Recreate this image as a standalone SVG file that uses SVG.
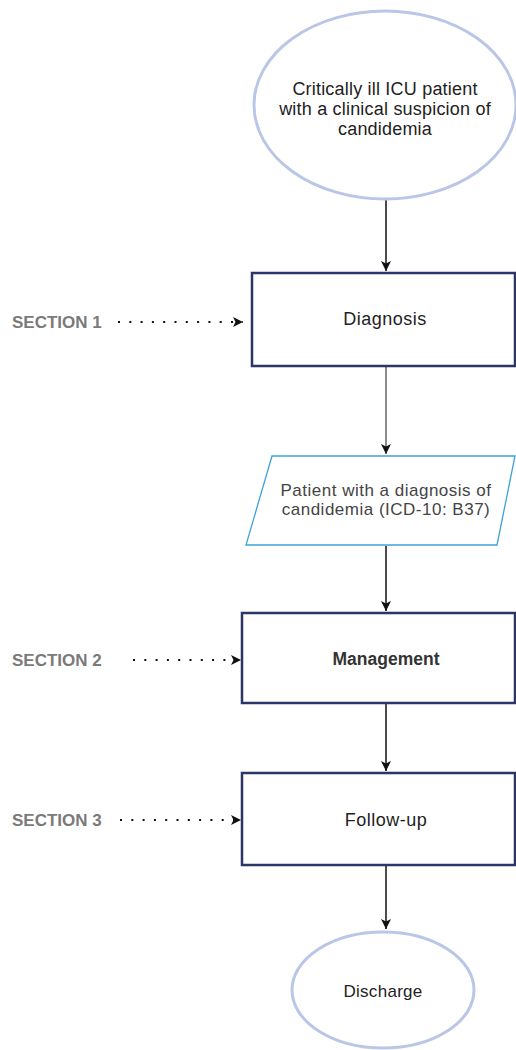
<svg xmlns="http://www.w3.org/2000/svg" width="516" height="1050" viewBox="0 0 516 1050">
<style>
  .lbl{font-family:"Liberation Sans",Arial,sans-serif;font-size:18px;fill:#222;text-anchor:middle;letter-spacing:0.5px}
  .sec{font-family:"Liberation Sans",Arial,sans-serif;font-size:17px;font-weight:bold;fill:#7a7a7a}
  .ell{fill:#fff;stroke:#b9c6e6;stroke-width:3}
  .box{fill:#fff;stroke:#2b3566;stroke-width:2.5}
  .para{fill:#fff;stroke:#3da2d9;stroke-width:1.3}
  .flow{stroke:#111;stroke-width:1.5;fill:none}
  .dot{stroke:#111;stroke-width:2.2;stroke-dasharray:2 9.3;fill:none}
</style>
<defs>
  <marker id="ah" viewBox="0 0 10 10" refX="10" refY="5" markerWidth="10" markerHeight="10" markerUnits="userSpaceOnUse" orient="auto">
    <path d="M0,0 L10,5 L0,10 L2.5,5 Z" fill="#111"/>
  </marker>
</defs>
<rect width="516" height="1050" fill="#fff"/>
<g id="connectors">
  <line class="flow" x1="386" y1="199" x2="386" y2="271" marker-end="url(#ah)"/>
  <line class="flow" x1="386" y1="367" x2="386" y2="454" marker-end="url(#ah)" style="stroke:#666"/>
  <line class="flow" x1="386" y1="546" x2="386" y2="611" marker-end="url(#ah)"/>
  <line class="flow" x1="386" y1="704" x2="386" y2="771" marker-end="url(#ah)"/>
  <line class="flow" x1="386" y1="866" x2="386" y2="929" marker-end="url(#ah)"/>
  <line class="dot" x1="118" y1="322" x2="243" y2="322" marker-end="url(#ah)"/>
  <line class="dot" x1="133" y1="660" x2="241" y2="660" marker-end="url(#ah)"/>
  <line class="dot" x1="120" y1="820" x2="241" y2="820" marker-end="url(#ah)"/>
</g>
<g id="start">
  <ellipse class="ell" cx="385" cy="105" rx="131" ry="94"/>
  <text class="lbl" x="385" y="95" style="letter-spacing:0.2px">Critically ill ICU patient</text>
  <text class="lbl" x="385" y="115" style="letter-spacing:0.2px">with a clinical suspicion of</text>
  <text class="lbl" x="385" y="135" style="letter-spacing:0.2px">candidemia</text>
</g>
<g id="section1">
  <text class="sec" x="12" y="328">SECTION 1</text>
</g>
<g id="diagnosis">
  <rect class="box" x="252" y="273" width="263" height="93"/>
  <text class="lbl" x="385" y="325">Diagnosis</text>
</g>
<g id="patient-diagnosis">
  <polygon class="para" points="272,456 515,456 497,545 246,545"/>
  <text class="lbl" x="386" y="496" style="font-size:17px;fill:#444">Patient with a diagnosis of</text>
  <text class="lbl" x="386" y="515" style="font-size:17px;fill:#444">candidemia (ICD-10: B37)</text>
</g>
<g id="section2">
  <text class="sec" x="12" y="666">SECTION 2</text>
</g>
<g id="management">
  <rect class="box" x="242" y="613" width="273" height="90"/>
  <text class="lbl" x="386" y="665" style="font-weight:bold;font-size:17.5px;letter-spacing:0px;fill:#333">Management</text>
</g>
<g id="section3">
  <text class="sec" x="12" y="826">SECTION 3</text>
</g>
<g id="followup">
  <rect class="box" x="242" y="773" width="273" height="92"/>
  <text class="lbl" x="386" y="826">Follow-up</text>
</g>
<g id="discharge">
  <ellipse class="ell" cx="383" cy="990" rx="91" ry="58"/>
  <text class="lbl" x="383" y="997" style="font-size:17px;letter-spacing:0.3px">Discharge</text>
</g>
</svg>
